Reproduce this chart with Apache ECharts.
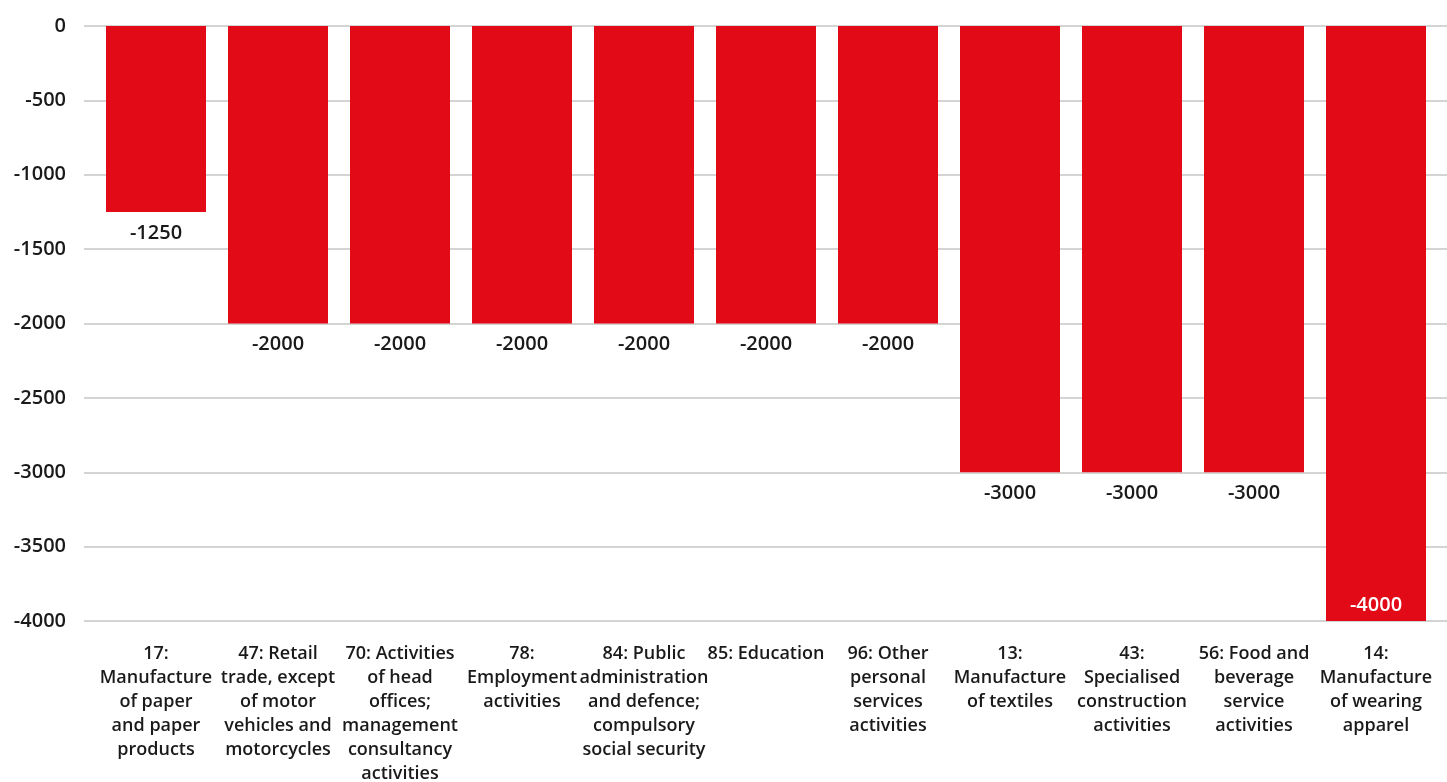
<!DOCTYPE html>
<html>
<head>
<meta charset="utf-8">
<script src="https://cdn.jsdelivr.net/npm/echarts@6/dist/echarts.min.js"></script>
<style>
  html, body { margin: 0; padding: 0; background: #ffffff; }
  #chart { width: 1447px; height: 782px; }
</style>
</head>
<body>
<div id="chart"></div>
<script>
// Industry categories (wrapped for the axis)
const categories = [
  "17:\nManufacture\nof paper\nand paper\nproducts",
  "47: Retail\ntrade, except\nof motor\nvehicles and\nmotorcycles",
  "70: Activities\nof head\noffices;\nmanagement\nconsultancy\nactivities",
  "78:\nEmployment\nactivities",
  "84: Public\nadministration\nand defence;\ncompulsory\nsocial security",
  "85: Education",
  "96: Other\npersonal\nservices\nactivities",
  "13:\nManufacture\nof textiles",
  "43:\nSpecialised\nconstruction\nactivities",
  "56: Food and\nbeverage\nservice\nactivities",
  "14:\nManufacture\nof wearing\napparel"
];
const values = [-1250, -2000, -2000, -2000, -2000, -2000, -2000, -3000, -3000, -3000, -4000];
const yMin = -4000;
const yMax = 0;
const yStep = 500;

const FONT = "'Open Sans', 'Noto Sans', sans-serif";
const TEXT = '#1a1a1a';
const RED = '#e20a16';

const chart = echarts.init(document.getElementById('chart'), null, { renderer: 'canvas' });

chart.setOption({
  animation: false,
  backgroundColor: '#ffffff',
  grid: [
    // background grid: carries the full-width horizontal rules
    { left: 84, right: 0, top: 26, bottom: 161, containLabel: false, outerBoundsMode: 'none' },
    // main grid: bars and labels
    { left: 95, right: 10, top: 26, bottom: 161, containLabel: false, outerBoundsMode: 'none' }
  ],
  xAxis: [
    { gridIndex: 0, type: 'category', data: categories, show: false },
    {
      gridIndex: 1, type: 'category', data: categories, position: 'bottom',
      axisLine: { show: false }, axisTick: { show: false },
      axisLabel: {
        interval: 0, margin: 21, color: TEXT, fontFamily: FONT,
        fontWeight: 600, fontSize: 18, lineHeight: 24, align: 'center', verticalAlign: 'top'
      }
    }
  ],
  yAxis: [
    {
      gridIndex: 0, type: 'value', min: yMin, max: yMax, interval: yStep,
      axisLine: { show: false }, axisTick: { show: false }, axisLabel: { show: false },
      splitLine: { show: true, lineStyle: { color: '#c6c6c6', width: 1.5 } }
    },
    {
      gridIndex: 1, type: 'value', min: yMin, max: yMax, interval: yStep,
      axisLine: { show: false }, axisTick: { show: false },
      splitLine: { show: false },
      axisLabel: {
        margin: 29, color: TEXT, fontFamily: FONT, fontWeight: 600, fontSize: 20,
        formatter: v => String(v)
      }
    }
  ],
  series: [{
    type: 'bar',
    xAxisIndex: 1,
    yAxisIndex: 1,
    data: values.map(v => {
      const inside = v === yMin;
      return {
        value: v,
        label: inside
          ? { position: 'insideBottom', distance: 6, color: '#ffffff' }
          : { position: 'bottom', distance: 11, color: TEXT }
      };
    }),
    barWidth: 100,
    itemStyle: { color: RED },
    label: {
      show: true, fontFamily: FONT, fontWeight: 600, fontSize: 20,
      formatter: p => String(p.value)
    }
  }]
});
</script>
</body>
</html>
